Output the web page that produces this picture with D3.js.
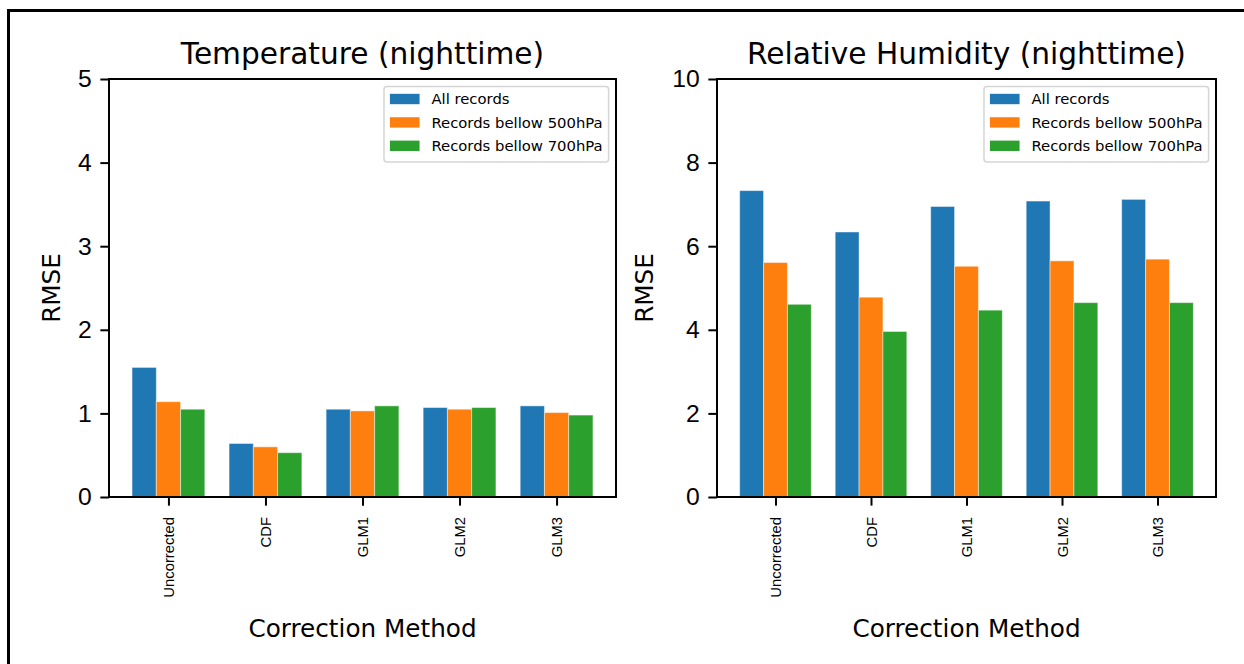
<!DOCTYPE html>
<html>
<head>
  <script src="https://d3js.org/d3.v7.min.js"></script>
  <style>
    body { margin: 0; background: #fff; }
    svg { font-family: "DejaVu Sans", sans-serif; }
    .axis path, .axis line { stroke: #000; stroke-width: 2px; }
    .axis text { fill: #000; }
  </style>
</head>
<body>
<div id="chart"></div>
<script>
var methods = ["Uncorrected", "CDF", "GLM1", "GLM2", "GLM3"];
var seriesNames = ["All records", "Records bellow 500hPa", "Records bellow 700hPa"];
var colors = ["#1f77b4", "#ff7f0e", "#2ca02c"];

// temperature RMSE per series
var tempAll = [1.55, 0.64, 1.05, 1.07, 1.09];
var temp500 = [1.14, 0.60, 1.03, 1.05, 1.01];
var temp700 = [1.05, 0.53, 1.09, 1.07, 0.98];

// relative humidity RMSE per series
var rhAll = [7.33, 6.34, 6.95, 7.08, 7.12];
var rh500 = [5.61, 4.78, 5.52, 5.65, 5.69];
var rh700 = [4.61, 3.96, 4.47, 4.65, 4.65];

var tempTicks = [0, 1, 2, 3, 4, 5];
var rhTicks = [0, 2, 4, 6, 8, 10];

var W = 1244, H = 664;
var pt = 2.47; // px per point

var svg = d3.select("#chart").append("svg")
  .attr("width", W)
  .attr("height", H);

// outer frame
svg.append("rect")
  .attr("x", 8.5).attr("y", 10.5)
  .attr("width", 1400).attr("height", 900)
  .attr("fill", "none").attr("stroke", "#000").attr("stroke-width", 3);

function panel(opts) {
  var x0 = opts.left, x1 = opts.right, y0 = 79, y1 = 497;
  var g = svg.append("g");

  var x = d3.scalePoint().domain(methods).range([x0, x1]).padding(0.6125);
  var bw = x.step() * 0.25;
  var y = d3.scaleLinear().domain([0, opts.ticks[opts.ticks.length - 1]]).range([y1, y0]);

  var series = opts.values.map(function(v, i) {
    return {name: seriesNames[i], color: colors[i], values: v, k: i - 1};
  });

  g.selectAll(".series")
    .data(series).enter()
    .append("g")
    .attr("fill", d => d.color)
    .selectAll("rect")
    .data(d => d.values.map((v, j) => ({v: v, m: methods[j], k: d.k}))).enter()
    .append("rect")
    .attr("x", d => x(d.m) + d.k * bw - bw / 2)
    .attr("width", bw)
    .attr("y", d => y(d.v))
    .attr("height", d => y1 - y(d.v))
    .attr("stroke", "#fff")
    .attr("stroke-opacity", 0.45)
    .attr("stroke-width", 1);

  // y axis
  g.append("g")
    .attr("class", "axis")
    .attr("transform", `translate(${x0},0)`)
    .call(d3.axisLeft(y).tickValues(opts.ticks).tickFormat(d3.format("d"))
      .tickSize(3.5 * pt).tickPadding(3.5 * pt).tickSizeOuter(0))
    .call(s => s.select(".domain").remove())
    .selectAll("text")
    .style("font-size", (10 * pt) + "px");

  // x axis
  g.append("g")
    .attr("class", "axis")
    .attr("transform", `translate(0,${y1})`)
    .call(d3.axisBottom(x).tickSize(3.5 * pt).tickSizeOuter(0))
    .call(s => s.select(".domain").remove())
    .selectAll("text")
    .style("font-size", (6 * pt) + "px")
    .attr("text-anchor", "end")
    .attr("dy", "0.35em")
    .attr("transform", "translate(0,20) rotate(-90)")
    .attr("x", 0).attr("y", 0);

  // spines
  g.append("rect")
    .attr("x", x0).attr("y", y0)
    .attr("width", x1 - x0).attr("height", y1 - y0)
    .attr("fill", "none").attr("stroke", "#000").attr("stroke-width", 2);

  // title
  g.append("text")
    .attr("x", (x0 + x1) / 2).attr("y", 64)
    .attr("text-anchor", "middle")
    .style("font-size", (12 * pt) + "px")
    .text(opts.title);

  // axis labels
  g.append("text")
    .attr("x", (x0 + x1) / 2).attr("y", 637)
    .attr("text-anchor", "middle")
    .style("font-size", (10 * pt) + "px")
    .text("Correction Method");

  g.append("text")
    .attr("transform", `translate(${opts.ylabelX},${(y0 + y1) / 2}) rotate(-90)`)
    .attr("text-anchor", "middle")
    .style("font-size", (10 * pt) + "px")
    .text("RMSE");

  // legend
  var fs = 6 * pt;
  var leg = g.append("g");
  var box = leg.append("rect");
  var rows = leg.selectAll(".row")
    .data(series).enter()
    .append("g")
    .attr("transform", (d, i) => `translate(0,${99 + i * 23.4})`);
  var texts = rows.append("text")
    .attr("y", fs * 0.36)
    .style("font-size", fs + "px")
    .attr("fill", "#000")
    .text(d => d.name);
  var tw = d3.max(texts.nodes(), n => n.getComputedTextLength());
  var lr = x1 - 0.5 * fs;
  var ll = lr - (0.8 * fs + 2 * fs + 0.8 * fs + tw);
  box.attr("x", ll).attr("y", y0 + 0.5 * fs)
    .attr("width", lr - ll).attr("height", 162 - (y0 + 0.5 * fs))
    .attr("rx", 3).attr("ry", 3)
    .attr("fill", "#fff").attr("fill-opacity", 0.8)
    .attr("stroke", "#d5d5d5").attr("stroke-width", 1.5);
  rows.append("rect")
    .attr("x", ll + 0.4 * fs)
    .attr("y", -0.35 * fs)
    .attr("width", 2 * fs)
    .attr("height", 0.7 * fs)
    .attr("fill", d => d.color);
  texts.attr("x", ll + 0.4 * fs + 2 * fs + 0.8 * fs);
}

panel({
  left: 109, right: 616,
  title: "Temperature (nighttime)",
  values: [tempAll, temp500, temp700],
  ticks: tempTicks,
  ylabelX: 60
});

panel({
  left: 717, right: 1216,
  title: "Relative Humidity (nighttime)",
  values: [rhAll, rh500, rh700],
  ticks: rhTicks,
  ylabelX: 653
});
</script>
</body>
</html>
